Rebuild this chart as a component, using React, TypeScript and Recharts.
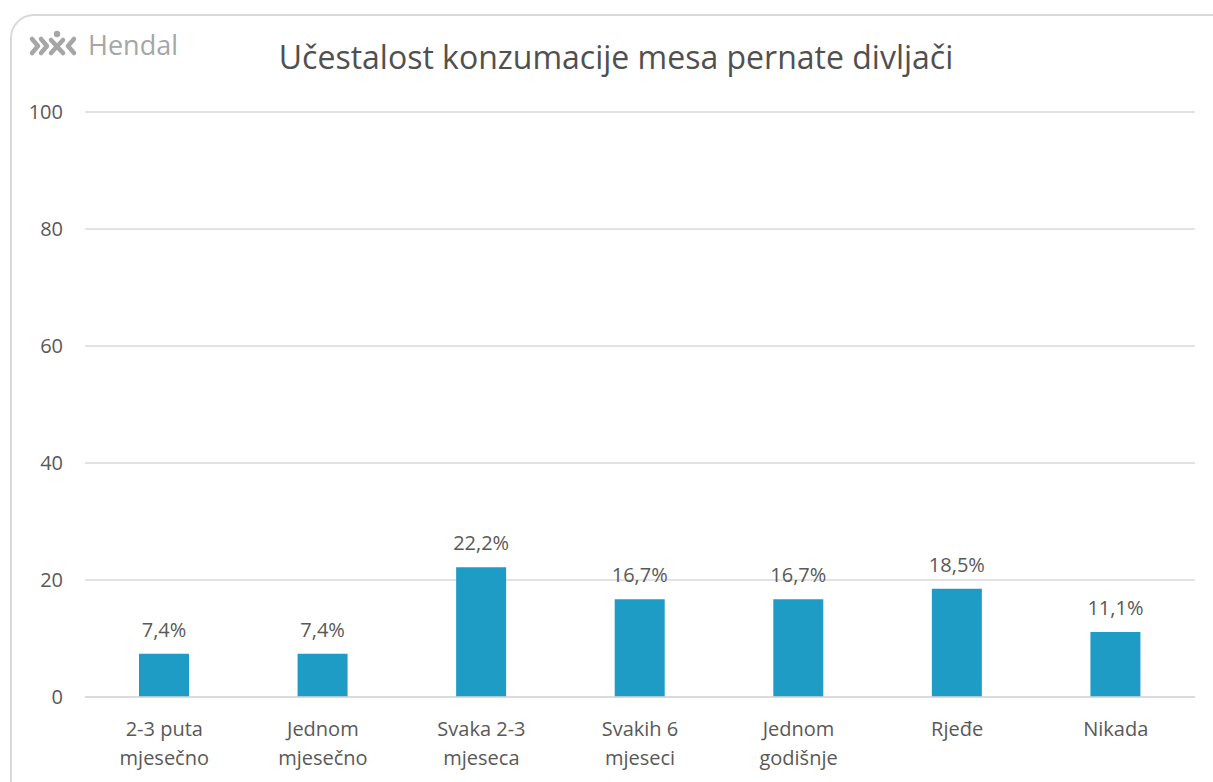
import { BarChart, Bar, XAxis, YAxis, CartesianGrid, LabelList } from "recharts";

const categories = [
  "2-3 puta\nmjesečno",
  "Jednom\nmjesečno",
  "Svaka 2-3\nmjeseca",
  "Svakih 6\nmjeseci",
  "Jednom\ngodišnje",
  "Rjeđe",
  "Nikada",
];
const shares = [7.4, 7.4, 22.2, 16.7, 16.7, 18.5, 11.1];
const yTicks = [0, 20, 40, 60, 80, 100];

const data = categories.map((name, i) => ({ name, value: shares[i] }));

const FONT = "'Open Sans', sans-serif";
const TEXT = "#595959";
const GRID = "#d9d9d9";
const BAR = "#1f9cc6";

const MultiLineTick = (props: any) => {
  const { x, y, payload } = props;
  const lines = String(payload.value).split("\n");
  return (
    <text x={x} y={y} textAnchor="middle" fill={TEXT} fontSize={20} fontFamily={FONT}>
      {lines.map((l, i) => (
        <tspan key={i} x={x} dy={i === 0 ? 31 : 29}>
          {l}
        </tspan>
      ))}
    </text>
  );
};

const fmt = (v: any) => `${String(v).replace(".", ",")}%`;

const Logo = () => (
  <svg width={190} height={44} style={{ position: "absolute", left: 26, top: 26 }}>
    <g fill="none" stroke="#a6a6a6" strokeWidth={4.5} strokeLinecap="round" strokeLinejoin="round">
      <polyline points="6,13 12,20 6,27" />
      <polyline points="15,13 21,20 15,27" />
      <line x1="25" y1="14" x2="37" y2="27" />
      <line x1="37" y1="14" x2="25" y2="27" />
      <polyline points="48,13 42,20 48,27" />
    </g>
    <circle cx={31} cy={8} r={3.2} fill="#a6a6a6" />
    <text x={62} y={29} fill="#a6a6a6" fontSize={27} fontFamily={FONT}>
      Hendal
    </text>
  </svg>
);

export default function App() {
  return (
    <div style={{ position: "absolute", left: 0, top: 0, width: 1213, height: 782, background: "#fff", overflow: "hidden" }}>
      <div
        style={{
          position: "absolute",
          left: 10,
          top: 14,
          width: 1240,
          height: 800,
          border: `2px solid ${GRID}`,
          borderRadius: 24,
          boxSizing: "border-box",
        }}
      />
      <Logo />
      <div
        style={{
          position: "absolute",
          left: 0,
          top: 35,
          width: 1232,
          textAlign: "center",
          fontFamily: FONT,
          fontSize: 32,
          color: "#505050",
        }}
      >
        Učestalost konzumacije mesa pernate divljači
      </div>
      <div style={{ position: "absolute", left: 0, top: 0 }}>
        <BarChart width={1213} height={782} data={data} margin={{ top: 112, right: 18, bottom: 10, left: 0 }} barSize={50}>
          <CartesianGrid vertical={false} stroke={GRID} strokeWidth={1.5} />
          <XAxis
            dataKey="name"
            axisLine={{ stroke: GRID, strokeWidth: 1.5 }}
            tickLine={false}
            interval={0}
            height={75}
            tick={<MultiLineTick />}
          />
          <YAxis
            domain={[0, 100]}
            ticks={yTicks}
            width={85}
            axisLine={false}
            tickLine={false}
            tickSize={0}
            tickMargin={22}
            tick={{ fill: TEXT, fontSize: 20, fontFamily: FONT }}
          />
          <Bar dataKey="value" fill={BAR} isAnimationActive={false}>
            <LabelList dataKey="value" position="top" offset={17} formatter={fmt} fill={TEXT} fontSize={20} fontFamily={FONT} />
          </Bar>
        </BarChart>
      </div>
    </div>
  );
}
